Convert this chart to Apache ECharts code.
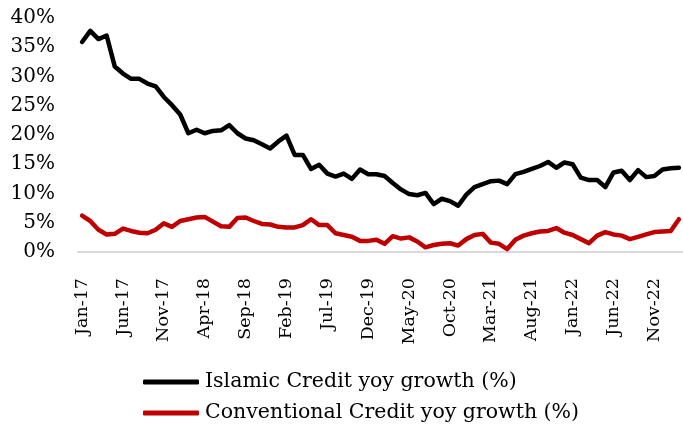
<!DOCTYPE html>
<html>
<head>
<meta charset="utf-8">
<style>
  html, body { margin: 0; padding: 0; background: #ffffff; }
  #chart { width: 683px; height: 425px; }
</style>
<script src="https://cdn.jsdelivr.net/npm/echarts@6/dist/echarts.min.js"></script>
</head>
<body>
<div id="chart"></div>
<script>
// Monthly categories, Jan-17 .. Feb-23
const months = [
  'Jan-17','Feb-17','Mar-17','Apr-17','May-17','Jun-17','Jul-17','Aug-17','Sep-17','Oct-17','Nov-17','Dec-17',
  'Jan-18','Feb-18','Mar-18','Apr-18','May-18','Jun-18','Jul-18','Aug-18','Sep-18','Oct-18','Nov-18','Dec-18',
  'Jan-19','Feb-19','Mar-19','Apr-19','May-19','Jun-19','Jul-19','Aug-19','Sep-19','Oct-19','Nov-19','Dec-19',
  'Jan-20','Feb-20','Mar-20','Apr-20','May-20','Jun-20','Jul-20','Aug-20','Sep-20','Oct-20','Nov-20','Dec-20',
  'Jan-21','Feb-21','Mar-21','Apr-21','May-21','Jun-21','Jul-21','Aug-21','Sep-21','Oct-21','Nov-21','Dec-21',
  'Jan-22','Feb-22','Mar-22','Apr-22','May-22','Jun-22','Jul-22','Aug-22','Sep-22','Oct-22','Nov-22','Dec-22',
  'Jan-23','Feb-23'
];

// Islamic credit, year-on-year growth (%)
const islamicGrowth = [
  35.9, 37.8, 36.4, 37.0, 31.7, 30.5, 29.6, 29.6, 28.8, 28.3, 26.5, 25.1,
  23.5, 20.3, 20.9, 20.3, 20.7, 20.8, 21.7, 20.3, 19.4, 19.1, 18.4, 17.7,
  18.9, 19.9, 16.6, 16.6, 14.2, 14.9, 13.4, 12.9, 13.4, 12.5, 14.1, 13.3,
  13.3, 13.0, 11.8, 10.7, 9.9, 9.7, 10.1, 8.2, 9.1, 8.7, 7.9, 9.8,
  11.1, 11.6, 12.1, 12.2, 11.6, 13.3, 13.7, 14.2, 14.7, 15.4, 14.4, 15.3,
  15.0, 12.7, 12.3, 12.3, 11.1, 13.6, 13.9, 12.3, 14.0, 12.8, 13.0, 14.1,
  14.3, 14.4
];

// Conventional credit, year-on-year growth (%)
const conventionalGrowth = [
  6.2, 5.3, 3.8, 3.0, 3.1, 4.0, 3.6, 3.3, 3.2, 3.8, 4.9, 4.3,
  5.3, 5.6, 5.9, 6.0, 5.2, 4.4, 4.3, 5.8, 5.9, 5.3, 4.8, 4.7,
  4.3, 4.2, 4.2, 4.6, 5.6, 4.6, 4.6, 3.2, 2.9, 2.6, 1.9, 1.9,
  2.1, 1.4, 2.7, 2.3, 2.5, 1.8, 0.8, 1.2, 1.4, 1.5, 1.1, 2.2,
  2.9, 3.1, 1.6, 1.4, 0.5, 2.1, 2.8, 3.2, 3.5, 3.6, 4.1, 3.3,
  2.9, 2.2, 1.5, 2.8, 3.4, 3.0, 2.8, 2.2, 2.6, 3.0, 3.4, 3.5,
  3.6, 5.6
];

const seriesNames = ['Islamic Credit yoy growth (%)', 'Conventional Credit yoy growth (%)'];

const FONT = 'DejaVu Serif';

const chart = echarts.init(document.getElementById('chart'), null, { renderer: 'canvas' });

chart.setOption({
  animation: false,
  backgroundColor: '#ffffff',
  grid: { left: 78, top: 18, width: 607, bottom: 173, containLabel: false },
  legend: {
    orient: 'vertical',
    left: 143,
    top: 371,
    width: 480,
    height: 80,
    padding: 0,
    itemGap: 9,
    itemWidth: 56,
    itemHeight: 5,
    icon: 'roundRect',
    textStyle: { fontFamily: FONT, fontSize: 20.5, lineHeight: 22, color: '#000000', padding: [0, 0, 0, 1] },
    data: seriesNames
  },
  xAxis: {
    type: 'category',
    data: months,
    boundaryGap: true,
    axisLine: { show: true, lineStyle: { color: '#d9d9d9', width: 2 } },
    axisTick: { show: false },
    splitLine: { show: false },
    axisLabel: {
      interval: 4,
      rotate: 90,
      margin: 26,
      fontFamily: FONT,
      fontSize: 17.5,
      color: '#000000'
    }
  },
  yAxis: {
    type: 'value',
    min: 0,
    max: 40,
    interval: 5,
    axisLine: { show: false },
    axisTick: { show: false },
    splitLine: { show: false },
    axisLabel: {
      margin: 23,
      fontFamily: FONT,
      fontSize: 20,
      color: '#000000',
      formatter: v => v + '%'
    }
  },
  series: [
    {
      name: seriesNames[0],
      type: 'line',
      data: islamicGrowth,
      showSymbol: false,
      symbol: 'none',
      lineStyle: { color: '#000000', width: 4.5, join: 'round', cap: 'round' },
      itemStyle: { color: '#000000' }
    },
    {
      name: seriesNames[1],
      type: 'line',
      data: conventionalGrowth,
      showSymbol: false,
      symbol: 'none',
      lineStyle: { color: '#c00000', width: 4.5, join: 'round', cap: 'round' },
      itemStyle: { color: '#c00000' }
    }
  ]
});
</script>
</body>
</html>
